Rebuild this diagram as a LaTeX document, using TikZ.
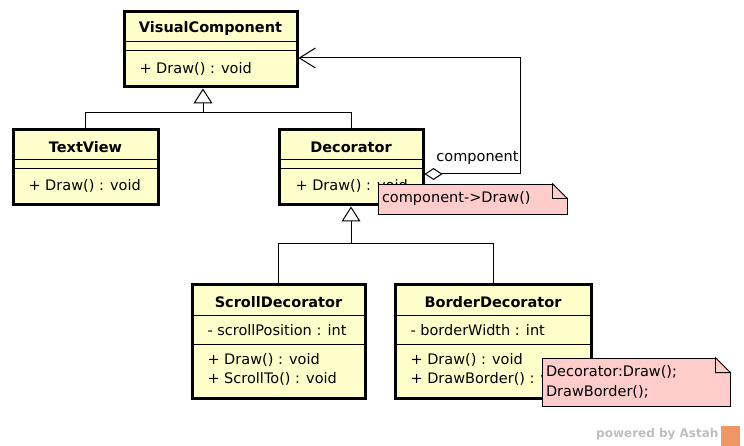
\documentclass[tikz,border=0pt]{standalone}
\usepackage{fontspec}
\setmainfont{DejaVu Sans}
\usetikzlibrary{positioning,arrows.meta}
\definecolor{classfill}{RGB}{255,255,204}
\definecolor{notefill}{RGB}{255,204,204}
\definecolor{wmgray}{RGB}{190,190,190}
\definecolor{wmorange}{RGB}{238,150,100}
\newcommand{\umlfont}{\fontsize{14.5}{20}\selectfont}
\tikzset{umlclass/.style={draw,fill=classfill,line width=3pt,inner sep=0pt}}
\tikzset{umltitle/.style={font=\umlfont\bfseries,inner sep=0pt}}
\tikzset{umlmember/.style={anchor=west,inner sep=0pt}}
\tikzset{umlsep/.style={line width=1pt}}
\tikzset{umlnote/.style={draw,line width=0.8pt,fill=notefill,align=left,inner ysep=0pt,inner xsep=4pt}}
\tikzset{notefold/.style={line width=0.8pt}}
\tikzset{generalize/.style={-{Triangle[open,length=15pt,width=19pt]}}}
\tikzset{aggregate/.style={{Diamond[open,length=18pt,width=12pt]}-{Straight Barb[length=16pt,width=20pt]}}}

\begin{document}
\begin{tikzpicture}[x=1pt,y=-1pt,line width=1pt,font=\umlfont]
    \useasboundingbox (0,0) rectangle (744,446);
    % VisualComponent
    \node[umlclass,minimum width=173pt,minimum height=75pt] (vc) at (210.5,49.5) {};
        \draw[umlsep] (vc.west |- 0,42) -- (vc.east |- 0,42);
        \draw[umlsep] (vc.west |- 0,51) -- (vc.east |- 0,51);
    \node[umltitle] (vc-name) at (210.5,29) {VisualComponent};
    \node[umlmember] (vc-m1) at (139,69) {+ Draw() : void};
    % TextView
    \node[umlclass,minimum width=145pt,minimum height=75pt] (tv) at (85.5,167.5) {};
        \draw[umlsep] (tv.west |- 0,160) -- (tv.east |- 0,160);
        \draw[umlsep] (tv.west |- 0,169) -- (tv.east |- 0,169);
    \node[umltitle] (tv-name) at (85.5,147) {TextView};
    \node[umlmember] (tv-m1) at (28,186) {+ Draw() : void};
    % Decorator
    \node[umlclass,minimum width=144pt,minimum height=75pt] (dec) at (351,167.5) {};
        \draw[umlsep] (dec.west |- 0,160) -- (dec.east |- 0,160);
        \draw[umlsep] (dec.west |- 0,169) -- (dec.east |- 0,169);
    \node[umltitle] (dec-name) at (351,147) {Decorator};
    \node[umlmember] (dec-m1) at (295,186) {+ Draw() : void};
    % ScrollDecorator
    \node[umlclass,minimum width=173pt,minimum height=113pt] (sd) at (278.5,341.5) {};
        \draw[umlsep] (sd.west |- 0,315) -- (sd.east |- 0,315);
        \draw[umlsep] (sd.west |- 0,344) -- (sd.east |- 0,344);
    \node[umltitle] (sd-name) at (278.5,302) {ScrollDecorator};
    \node[umlmember] (sd-a1) at (207,330) {- scrollPosition : int};
    \node[umlmember] (sd-m1) at (207,360) {+ Draw() : void};
    \node[umlmember] (sd-m2) at (207,379) {+ ScrollTo() : void};
    % BorderDecorator
    \node[umlclass,minimum width=196pt,minimum height=113pt] (bd) at (493,341.5) {};
        \draw[umlsep] (bd.west |- 0,315) -- (bd.east |- 0,315);
        \draw[umlsep] (bd.west |- 0,344) -- (bd.east |- 0,344);
    \node[umltitle] (bd-name) at (493,302) {BorderDecorator};
    \node[umlmember] (bd-a1) at (410,330) {- borderWidth : int};
    \node[umlmember] (bd-m1) at (410,360) {+ Draw() : void};
    \node[umlmember] (bd-m2) at (410,379) {+ DrawBorder() : void};

    % inheritance
    \coordinate (vc-join) at (203,113);
        \draw (tv.north) |- (vc-join);
        \draw (dec.north) |- (vc-join);
        \draw[generalize] (vc-join) -- (vc-join |- vc.south);
    \coordinate (dec-join) at (351,244);
        \draw (sd.north) |- (dec-join);
        \draw (bd.north) |- (dec-join);
        \draw[generalize] (dec-join) -- (dec.south);

    % aggregation
    \coordinate (comp-bend) at (520,58);
        \draw[aggregate] (dec.east |- 0,174) -| (comp-bend) -- (vc.east |- comp-bend);
    \node[anchor=base east,inner sep=0pt] (comp-label) at (519,162) {component};

    % notes
    \node[umlnote,text width=181pt,minimum height=30pt] (note1) at (472.5,199) {component->Draw()};
        \fill[white] ([xshift=-15pt,yshift=1pt]note1.north east) -- ([xshift=1pt,yshift=1pt]note1.north east) -- ([xshift=1pt,yshift=-15pt]note1.north east) -- cycle;
        \draw[notefold] ([xshift=-15pt]note1.north east) |- ([yshift=-15pt]note1.north east) -- cycle;
    \node[umlnote,text width=180pt,minimum height=48pt] (note2) at (636,382) {Decorator:Draw();\\DrawBorder();};
        \fill[white] ([xshift=-15pt,yshift=1pt]note2.north east) -- ([xshift=1pt,yshift=1pt]note2.north east) -- ([xshift=1pt,yshift=-15pt]note2.north east) -- cycle;
        \draw[notefold] ([xshift=-15pt]note2.north east) |- ([yshift=-15pt]note2.north east) -- cycle;

    \node[font=\bfseries\fontsize{12}{14}\selectfont,text=wmgray,anchor=east,inner sep=0pt] (astah) at (719,434) {powered by Astah};
    \node[fill=wmorange,minimum width=19pt,minimum height=20pt,inner sep=0pt,anchor=north west] (astah-logo) at (720,425) {};
\end{tikzpicture}
\end{document}
